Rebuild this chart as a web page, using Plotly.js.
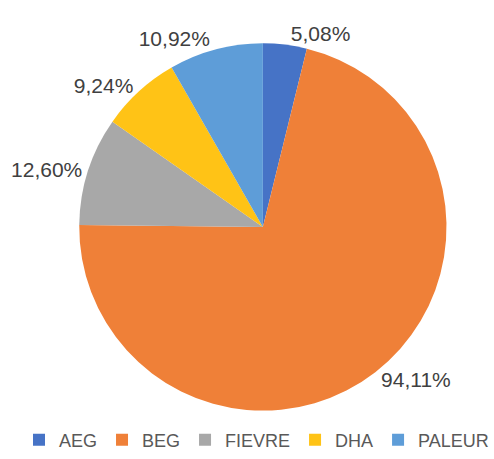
<!DOCTYPE html>
<html>
<head>
<meta charset="utf-8">
<script src="https://cdn.plot.ly/plotly-3.0.1.min.js"></script>
<style>html,body{margin:0;padding:0;background:#fff;}#chart{width:494px;height:459px;}</style>
</head>
<body>
<div id="chart"></div>
<script>
const categories = ["AEG", "BEG", "FIEVRE", "DHA", "PALEUR"];
const values = [5.08, 94.11, 12.60, 9.24, 10.92];
const colors = ["#4673C6", "#EF8038", "#A8A8A8", "#FFC316", "#5E9DD8"];

const trace = {
  type: "pie",
  labels: categories,
  values: values,
  sort: false,
  direction: "clockwise",
  rotation: 0,
  marker: { colors: colors, line: { width: 0 } },
  textposition: "outside",
  texttemplate: "%{value:.2f}%",
  textfont: { family: "Liberation Sans, Arial, sans-serif", size: 21, color: "#404040" },
  hoverinfo: "label+value",
  domain: { x: [0.163, 0.921], y: [0.0855, 0.9035] },
  automargin: false
};

const layout = {
  width: 494,
  height: 459,
  margin: { l: 0, r: 0, t: 0, b: 0 },
  paper_bgcolor: "#ffffff",
  separators: ",.",
  showlegend: true,
  legend: {
    orientation: "h",
    x: 0.575, xanchor: "center",
    y: 0.02, yanchor: "middle",
    font: { family: "Liberation Sans, Arial, sans-serif", size: 18, color: "#595959" },
    traceorder: "normal",
    itemclick: false
  }
};

Plotly.newPlot("chart", [trace], layout, { displayModeBar: false, staticPlot: true });
</script>
</body>
</html>
